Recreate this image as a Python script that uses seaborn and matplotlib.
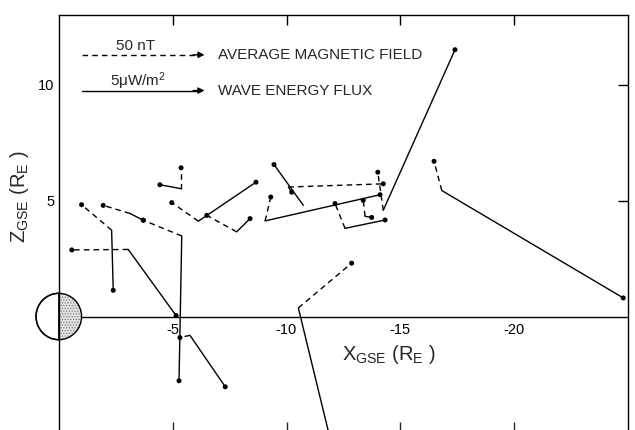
import numpy as np
import pandas as pd
import matplotlib
matplotlib.use("Agg")
import matplotlib.pyplot as plt
import seaborn as sns
from matplotlib.patches import Wedge, Circle

# Spacecraft positions (X_GSE, Z_GSE), Earth radii
base_x = [-2.32, -3.13, -3.05, -5.40, -5.37, -5.76, -6.13, -7.81, -10.74,
          -10.08, -9.06, -12.57, -13.45, -14.25, -10.52, -16.82]
base_z = [3.72, 4.44, 2.89, 3.47, 5.51, -0.81, 4.11, 3.65, 4.79,
          5.58, 4.12, 3.80, 4.32, 4.58, 0.37, 5.43]

# Tips of the average magnetic field vectors (50 nT scale)
field_x = [-1.00, -1.95, -0.57, -3.71, -5.37, -5.32, -4.96, -6.50, np.nan,
           -14.25, -9.31, -12.13, -13.37, -14.01, -12.86, -16.48]
field_z = [4.82, 4.79, 2.87, 4.15, 6.41, -0.91, 4.91, 4.36, np.nan,
           5.72, 5.15, 4.87, 5.01, 6.22, 2.30, 6.69]

# Tips of the wave energy flux vectors (5 uW/m^2 scale)
flux_x = [-2.39, -3.71, -5.15, -5.28, -4.44, -7.31, -8.66, -8.40, -9.45,
          -10.23, -14.11, -14.33, -13.74, -17.40, -11.95, -24.79]
flux_z = [1.13, 4.15, 0.04, -2.77, 5.68, -3.03, 5.79, 4.22, 6.55,
          5.36, 5.25, 4.16, 4.27, 11.50, -5.40, 0.80]

x_ticks = [-5, -10, -15, -20]
x_tick_labels = ["-5", "-10", "-15", "-20"]
y_ticks = [5, 10]
y_tick_labels = ["5", "10"]

sns.set_style("white")
plt.rcParams["font.family"] = ["Liberation Sans", "DejaVu Sans"]
plt.rcParams["mathtext.fontset"] = "custom"
plt.rcParams["mathtext.rm"] = "Liberation Sans"
plt.rcParams["mathtext.it"] = "Liberation Sans"
plt.rcParams["hatch.linewidth"] = 0.6

fig = plt.figure(figsize=(6.35, 4.3), dpi=100)
ax = fig.add_axes([58.8 / 635, -0.0058, (628.05 - 58.8) / 635, 0.9711])
ax.set_xlim(0, -25)
ax.set_ylim(-5, 13)

dash = (0, (4, 3))
lw = 1.0
for bx, bz, fx, fz, sx, sz in zip(base_x, base_z, field_x, field_z, flux_x, flux_z):
    if not np.isnan(fx):
        ax.plot([bx, fx], [bz, fz], color="black", lw=lw, ls=dash, zorder=3)
    ax.plot([bx, sx], [bz, sz], color="black", lw=lw, ls="-", zorder=3)

tips = pd.DataFrame({"x": field_x + flux_x, "z": field_z + flux_z}).dropna()
sns.scatterplot(data=tips, x="x", y="z", ax=ax, color="black", s=13,
                edgecolor="none", legend=False, zorder=4)

# Earth: sunlit half white, night half stippled
night = Wedge((0, 0), 1, 90, 270, facecolor="#e4e4e4", edgecolor="#7a7a7a",
              hatch="......", lw=0, clip_on=False, zorder=5)
day = Wedge((0, 0), 1, 270, 90, facecolor="white", edgecolor="black",
            lw=1.0, clip_on=False, zorder=5)
outline = Circle((0, 0), 1, fill=False, edgecolor="black", lw=1.0,
                 clip_on=False, zorder=6)
ax.add_patch(night)
ax.add_patch(day)
ax.add_patch(outline)
ax.plot([0, 0], [-1, 1], color="black", lw=1.0, clip_on=False, zorder=6)

# Frame and axes through the origin
for side in ["left", "right", "top", "bottom"]:
    ax.spines[side].set_linewidth(1.0)
    ax.spines[side].set_color("black")
ax.spines["bottom"].set_position(("data", 0))

ax.set_xticks(x_ticks)
ax.set_xticklabels(x_tick_labels)
ax.set_yticks(y_ticks)
ax.set_yticklabels(y_tick_labels)
ax.tick_params(axis="both", direction="in", length=7, width=1.0,
               labelsize=10.5, colors="black")
ax.tick_params(axis="x", top=True, pad=5)
ax.tick_params(axis="y", right=True, pad=3)
ax.set_xlabel("")
ax.set_ylabel("")

sec = ax.secondary_xaxis(0.0)
sec.set_xticks(x_ticks)
sec.tick_params(direction="in", length=7, width=1.0, labelbottom=False)

# Scale arrows
ax.plot([-1.0, -6.15], [11.28, 11.28], color="black", lw=lw, ls=dash)
ax.annotate("", xy=(-6.4, 11.28), xytext=(-5.9, 11.28),
            arrowprops=dict(arrowstyle="-|>", color="black", lw=1.0,
                            mutation_scale=9, shrinkA=0, shrinkB=0))
ax.plot([-1.0, -6.15], [9.74, 9.74], color="black", lw=lw, ls="-")
ax.annotate("", xy=(-6.4, 9.74), xytext=(-5.9, 9.74),
            arrowprops=dict(arrowstyle="-|>", color="black", lw=1.0,
                            mutation_scale=9, shrinkA=0, shrinkB=0))
ax.text(-3.35, 11.64, "50 nT", ha="center", va="center", fontsize=11)
ax.text(-3.48, 10.14, "5μW/m$^{2}$", ha="center", va="center", fontsize=11)
ax.text(-7.0, 11.28, "AVERAGE MAGNETIC FIELD", ha="left", va="center",
        fontsize=11)
ax.text(-7.0, 9.74, "WAVE ENERGY FLUX", ha="left", va="center", fontsize=11)

ax.text(-14.5, -1.63, r"X$_{\mathrm{GSE}}$ (R$_{\mathrm{E}}$ )", ha="center",
        va="center", fontsize=14.5)
fig.text(20 / 635, 1 - 197 / 430, r"Z$_{\mathrm{GSE}}$ (R$_{\mathrm{E}}$ )",
         rotation=90, ha="center", va="center", fontsize=14.5)

fig.savefig("out.png", dpi=100)
